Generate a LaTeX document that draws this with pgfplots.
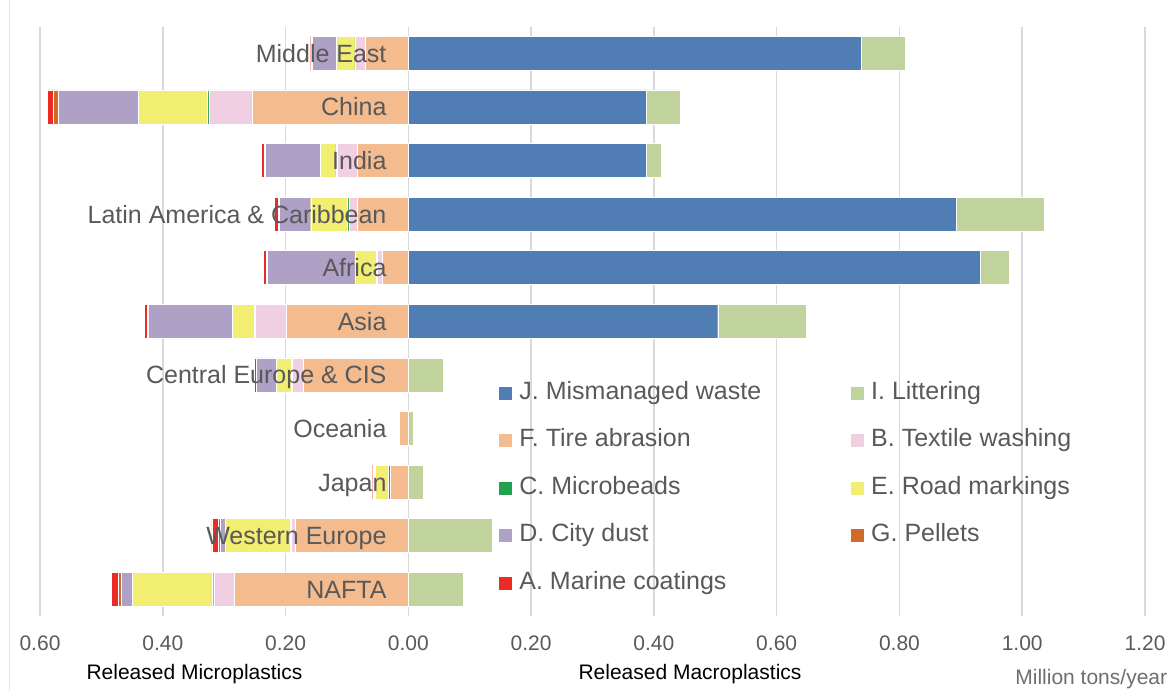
\documentclass[border=0pt]{standalone}
\usepackage{fontspec}
\setmainfont{Liberation Sans}
\usepackage{pgfplots}
\usepackage{pgfplotstable}
\pgfplotsset{compat=1.18}

\definecolor{cJ}{RGB}{79,125,180}
\definecolor{cI}{RGB}{192,211,156}
\definecolor{cF}{RGB}{244,187,142}
\definecolor{cB}{RGB}{240,207,227}
\definecolor{cC}{RGB}{35,162,78}
\definecolor{cE}{RGB}{241,238,114}
\definecolor{cD}{RGB}{175,160,198}
\definecolor{cG}{RGB}{210,105,40}
\definecolor{cA}{RGB}{238,42,36}
\definecolor{txtgray}{RGB}{89,89,89}
\definecolor{unitgray}{RGB}{110,110,110}
\definecolor{gridgray}{RGB}{217,217,217}

% Released plastics by region, million tons/year
% micro: F tire, B textile, C microbeads, E road markings, D city dust, G pellets, A marine coatings
% macro: J mismanaged waste, I littering
\pgfplotstableread{
row F     B     C     E     D     G     A     J     I
0   0.070 0.016 0.001 0.030 0.039 0.000 0.003 0.737 0.072
1   0.255 0.070 0.002 0.113 0.130 0.009 0.009 0.388 0.055
2   0.084 0.032 0.002 0.025 0.090 0.002 0.004 0.388 0.024
3   0.084 0.013 0.002 0.060 0.052 0.001 0.006 0.892 0.144
4   0.042 0.008 0.002 0.035 0.143 0.001 0.005 0.931 0.048
5   0.199 0.050 0.002 0.036 0.137 0.001 0.005 0.504 0.144
6   0.171 0.018 0.002 0.024 0.033 0.000 0.003 0.000 0.057
7   0.015 0.001 0.002 0.001 0.000 0.000 0.000 0.000 0.008
8   0.029 0.000 0.003 0.022 0.001 0.000 0.003 0.000 0.024
9   0.184 0.006 0.002 0.106 0.008 0.003 0.011 0.000 0.137
10  0.283 0.034 0.002 0.130 0.019 0.005 0.011 0.000 0.089
}\data

\tikzset{catlabel/.style={anchor=base east, yshift=-4.5pt, inner sep=0pt,
    font=\fontsize{12.5}{15}\selectfont, text=txtgray}}

\pgfplotsset{
  base/.style={
    scale only axis, width=552.5pt, height=294.75pt,
    at={(0pt,0pt)}, anchor=south west,
    xmin=-0.6, xmax=1.2, ymin=-0.5, ymax=10.5, y dir=reverse,
    xbar stacked, bar width=17pt,
    axis line style={draw=none}, major tick length=0pt,
    ytick=\empty,
  },
}

\begin{document}
\begin{tikzpicture}
\useasboundingbox (-20pt,-37.5pt) rectangle (565pt,308pt);
\draw[gridgray!70, line width=0.5pt] (-15pt,-37.5pt) -- (-15pt,308pt);

% microplastics, stacked to the left
\begin{axis}[base,
  xtick={-0.6,-0.4,-0.2,0,0.2,0.4,0.6,0.8,1.0,1.2},
  xticklabels={0.60,0.40,0.20,0.00,0.20,0.40,0.60,0.80,1.00,1.20},
  xticklabel style={font=\fontsize{10.5}{12}\selectfont, text=txtgray, anchor=base, yshift=-17.25pt},
  xmajorgrids, major grid style={gridgray, line width=0.75pt},
]
  \addplot[fill=cF, draw=white, line width=0.2pt] table[x expr=-\thisrow{F}, y=row]{\data};
  \addplot[fill=cB, draw=white, line width=0.2pt] table[x expr=-\thisrow{B}, y=row]{\data};
  \addplot[fill=cC, draw=white, line width=0.2pt] table[x expr=-\thisrow{C}, y=row]{\data};
  \addplot[fill=cE, draw=white, line width=0.2pt] table[x expr=-\thisrow{E}, y=row]{\data};
  \addplot[fill=cD, draw=white, line width=0.2pt] table[x expr=-\thisrow{D}, y=row]{\data};
  \addplot[fill=cG, draw=white, line width=0.2pt] table[x expr=-\thisrow{G}, y=row]{\data};
  \addplot[fill=cA, draw=white, line width=0.2pt] table[x expr=-\thisrow{A}, y=row]{\data};
\end{axis}

% macroplastics, stacked to the right
\begin{axis}[base, xtick=\empty,
  legend columns=2, legend cell align=left,
  legend image code/.code={\fill[#1, draw=none] (0pt,-3.25pt) rectangle (6.5pt,3.25pt);},
  legend style={at={(0.4154,0.3987)}, anchor=north west, draw=none, fill=none,
    inner sep=0pt, row sep=11.75pt,
    font=\fontsize{12.5}{15}\selectfont, text=txtgray,
    nodes={inner sep=0pt, text height=9pt, text depth=3pt},
    /tikz/every odd column/.append style={column sep=3.5pt},
    /tikz/every even column/.append style={column sep=45pt}},
]
  \addlegendimage{fill=cJ, draw=none}\addlegendentry{J. Mismanaged waste}
  \addlegendimage{fill=cI, draw=none}\addlegendentry{I. Littering}
  \addlegendimage{fill=cF, draw=none}\addlegendentry{F. Tire abrasion}
  \addlegendimage{fill=cB, draw=none}\addlegendentry{B. Textile washing}
  \addlegendimage{fill=cC, draw=none}\addlegendentry{C. Microbeads}
  \addlegendimage{fill=cE, draw=none}\addlegendentry{E. Road markings}
  \addlegendimage{fill=cD, draw=none}\addlegendentry{D. City dust}
  \addlegendimage{fill=cG, draw=none}\addlegendentry{G. Pellets}
  \addlegendimage{fill=cA, draw=none}\addlegendentry{A. Marine coatings}

  \addplot[fill=cJ, draw=white, line width=0.2pt, forget plot] table[x=J, y=row]{\data};
  \addplot[fill=cI, draw=white, line width=0.2pt, forget plot] table[x=I, y=row]{\data};

  \node[catlabel] at (axis cs:-0.035,0) {Middle East};
  \node[catlabel] at (axis cs:-0.035,1) {China};
  \node[catlabel] at (axis cs:-0.035,2) {India};
  \node[catlabel] at (axis cs:-0.035,3) {Latin America \& Caribbean};
  \node[catlabel] at (axis cs:-0.035,4) {Africa};
  \node[catlabel] at (axis cs:-0.035,5) {Asia};
  \node[catlabel] at (axis cs:-0.035,6) {Central Europe \& CIS};
  \node[catlabel] at (axis cs:-0.035,7) {Oceania};
  \node[catlabel] at (axis cs:-0.035,8) {Japan};
  \node[catlabel] at (axis cs:-0.035,9) {Western Europe};
  \node[catlabel] at (axis cs:-0.035,10) {NAFTA};
\end{axis}

\node[anchor=base, font=\fontsize{10.5}{12}\selectfont] at (77.25pt,-31.75pt) {Released Microplastics};
\node[anchor=base, font=\fontsize{10.5}{12}\selectfont] at (325pt,-31.75pt) {Released Macroplastics};
\node[anchor=base west, inner sep=0pt, font=\fontsize{10.5}{12}\selectfont, text=unitgray] at (487.5pt,-34.25pt) {Million tons/year};
\end{tikzpicture}
\end{document}
